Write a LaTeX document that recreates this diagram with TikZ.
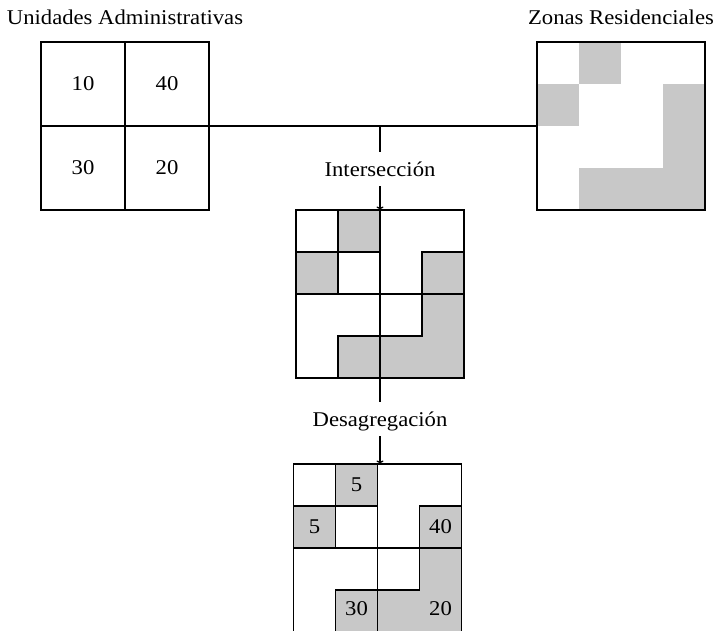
\documentclass[tikz,border=0pt]{standalone}
\usepackage{fontspec}
\setmainfont{Liberation Serif}[FakeStretch=1.08]
\usetikzlibrary{arrows.meta}
\definecolor{cellgray}{RGB}{200,200,200}
\tikzset{
  gridline/.style={line width=1.6pt},
  grayfill/.style={fill=cellgray},
  graycell/.style={fill=cellgray, draw=black, line width=1.6pt},
  gridbox/.style={draw=black, line width=1.6pt, minimum size=168pt, inner sep=0pt, outer sep=0pt},
  conn/.style={line width=1.2pt},
  arr/.style={line width=1.3pt, -{To[length=3.5pt,width=7pt]}},
  txt/.style={font=\fontsize{21}{25}\selectfont, inner sep=0pt},
  steplabel/.style={font=\fontsize{21}{25}\selectfont, fill=white, text height=14pt, text depth=0pt, inner xsep=2pt, inner ysep=10pt, anchor=base},
}
\begin{document}
\begin{tikzpicture}[x=1pt,y=-1pt]
\useasboundingbox (0,0) rectangle (715,630);

% titles
\node[txt, anchor=base] (tua) at (125,24) {Unidades Administrativas};
\node[txt, anchor=base] (tzr) at (621,24) {Zonas Residenciales};

% left grid: administrative units
\draw[gridline] (125,42) -- (125,210);
\draw[gridline] (41,126) -- (209,126);
\node[gridbox] (ua) at (125,126) {};
\node[txt] (n10) at (83,84) {10};
\node[txt] (n40) at (167,84) {40};
\node[txt] (n30) at (83,168) {30};
\node[txt] (n20) at (167,168) {20};

% right grid: residential zones
\begin{scope}[shift={(537,42)}]
  \fill[grayfill] (42,0) rectangle (84,42);
  \fill[grayfill] (0,42) rectangle (42,84);
  \fill[grayfill] (126,42) rectangle (168,168);
  \fill[grayfill] (42,126) rectangle (168,168);
\end{scope}
\node[gridbox] (zr) at (621,126) {};

% intersection and disaggregation grids
\foreach \ox/\oy in {296/210, 293.5/464} {
  \begin{scope}[shift={(\ox,\oy)}]
    \filldraw[graycell] (42,0) rectangle (84,42);
    \filldraw[graycell] (0,42) rectangle (42,84);
    \filldraw[graycell] (126,42) rectangle (168,84);
    \filldraw[graycell] (126,84) -- (168,84) -- (168,168) -- (42,168) -- (42,126) -- (126,126) -- cycle;
    \draw[gridline] (84,0) -- (84,168);
    \draw[gridline] (0,84) -- (168,84);
  \end{scope}
}
\node[gridbox] (inter) at (380,294) {};
\node[gridbox] (desag) at (377.5,548) {};

% numbers in the disaggregated grid
\node[txt] (d5a) at (356.5,485) {5};
\node[txt] (d5b) at (314.5,527) {5};
\node[txt] (d40) at (440.5,527) {40};
\node[txt] (d30) at (356.5,609) {30};
\node[txt] (d20) at (440.5,609) {20};

% connectors
\coordinate (j) at (inter.north |- ua.east);
\draw[conn] (ua.east) -- (zr.west);
\node[steplabel] (lint) at (380,176) {Intersección};
\draw[conn] (j) -- (lint.north);
\draw[arr] (lint.south) -- (inter.north);
\node[steplabel] (ldes) at (380,426) {Desagregación};
\draw[conn] (inter.south) -- (ldes.north);
\draw[arr] (ldes.south) -- (ldes.south |- desag.north);
\end{tikzpicture}
\end{document}
